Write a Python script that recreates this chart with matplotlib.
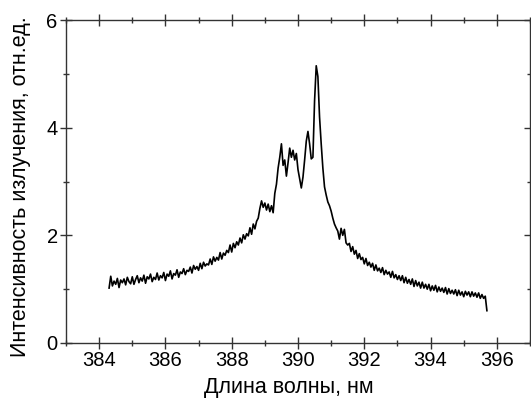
# -*- coding: utf-8 -*-
import numpy as np
import matplotlib.pyplot as plt
from matplotlib.ticker import MultipleLocator

# Spectrum (0.05 nm step, 384.30 ... 395.70 nm)
wl_start = 384.30
wl_end = 395.70
intensity = [
    1.02, 1.24, 1.06, 1.15, 1.09, 1.20, 1.03, 1.17, 1.12, 1.19,
    1.08, 1.22, 1.14, 1.10, 1.23, 1.09, 1.18, 1.25, 1.12, 1.21,
    1.15, 1.26, 1.11, 1.23, 1.19, 1.28, 1.14, 1.22, 1.18, 1.30,
    1.17, 1.25, 1.21, 1.31, 1.16, 1.28, 1.24, 1.34, 1.19, 1.29,
    1.26, 1.36, 1.22, 1.32, 1.29, 1.38, 1.27, 1.35, 1.33, 1.41,
    1.30, 1.44, 1.37, 1.42, 1.35, 1.48, 1.38, 1.50, 1.43, 1.47,
    1.45, 1.56, 1.46, 1.60, 1.52, 1.59, 1.54, 1.68, 1.56, 1.67,
    1.63, 1.72, 1.68, 1.82, 1.69, 1.85, 1.77, 1.88, 1.82, 1.95,
    1.86, 2.01, 1.93, 2.03, 1.99, 2.14, 2.02, 2.21, 2.12, 2.26,
    2.32, 2.50, 2.64, 2.52, 2.60, 2.47, 2.58, 2.44, 2.55, 2.42,
    2.78, 2.95, 3.25, 3.45, 3.70, 3.30, 3.40, 3.10, 3.35, 3.62,
    3.45, 3.58, 3.40, 3.52, 3.22, 3.05, 2.88, 3.08, 3.40, 3.75,
    3.93, 3.70, 3.42, 3.45, 4.50, 5.15, 4.95, 4.20, 3.70, 3.25,
    2.90, 2.75, 2.62, 2.55, 2.45, 2.32, 2.21, 2.14, 2.08, 1.93,
    2.13, 2.00, 2.11, 1.86, 1.82, 1.85, 1.70, 1.79, 1.65, 1.72,
    1.57, 1.66, 1.55, 1.59, 1.47, 1.57, 1.44, 1.50, 1.41, 1.48,
    1.35, 1.45, 1.34, 1.39, 1.31, 1.40, 1.27, 1.35, 1.28, 1.32,
    1.22, 1.33, 1.21, 1.27, 1.18, 1.25, 1.16, 1.25, 1.12, 1.22,
    1.11, 1.18, 1.09, 1.19, 1.05, 1.16, 1.06, 1.13, 1.02, 1.13,
    1.02, 1.09, 1.00, 1.09, 0.97, 1.06, 0.98, 1.07, 0.95, 1.04,
    0.96, 1.02, 0.94, 1.03, 0.91, 1.01, 0.92, 0.98, 0.91, 0.99,
    0.88, 0.98, 0.89, 0.95, 0.86, 0.96, 0.89, 0.95, 0.86, 0.95,
    0.87, 0.93, 0.85, 0.93, 0.83, 0.90, 0.83, 0.87, 0.60,
]
wavelength = np.linspace(wl_start, wl_end, len(intensity))

plt.rcParams['font.family'] = ['Liberation Sans', 'DejaVu Sans']
font_size = 14.5
label_size = 15.5

fig = plt.figure(figsize=(5.31, 4.01), dpi=100)
ax = fig.add_axes([66/531, 58/401, 464/531, 323/401])

ax.plot(wavelength, intensity, color='black', linewidth=1.2)

ax.set_xlim(383, 397)
ax.set_ylim(0, 6)
ax.xaxis.set_major_locator(MultipleLocator(2))
ax.xaxis.set_minor_locator(MultipleLocator(1))
ax.yaxis.set_major_locator(MultipleLocator(2))
ax.yaxis.set_minor_locator(MultipleLocator(1))

for s in ax.spines.values():
    s.set_color('#333333')
    s.set_linewidth(1.0)

ax.tick_params(which='both', direction='inout', top=True, right=True,
               color='#333333', labelsize=font_size, pad=2)
ax.tick_params(which='major', length=8, width=1.0)
ax.tick_params(which='minor', length=4.5, width=1.0)

ax.set_xlabel(u'Длина волны, нм', fontsize=label_size)
ax.set_ylabel(u'Интенсивность излучения, отн.ед.', fontsize=label_size)
ax.xaxis.set_label_coords(0.48, -0.105)
ax.yaxis.set_label_coords(-0.075, 0.483)

plt.savefig('out.png', dpi=100)
